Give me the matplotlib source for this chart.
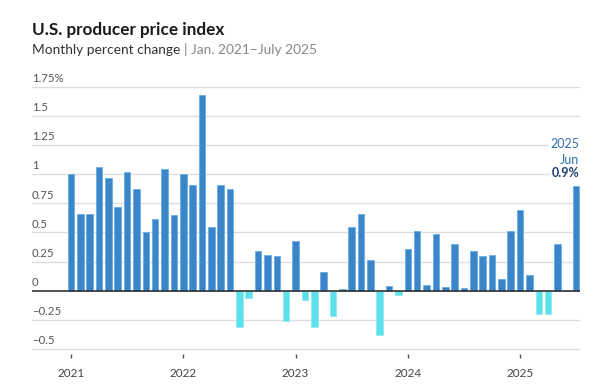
import matplotlib
matplotlib.use('Agg')
import matplotlib.pyplot as plt
import numpy as np

plt.rcParams['font.family'] = ['Lato', 'DejaVu Sans']

# monthly PPI change, Jan 2021 - Jul 2025 (percent)
ppi_2021 = [1.0, 0.66, 0.66, 1.06, 0.97, 0.72, 1.02, 0.87, 0.50, 0.62, 1.05, 0.65]
ppi_2022 = [1.0, 0.91, 1.68, 0.55, 0.91, 0.87, -0.31, -0.06, 0.34, 0.31, 0.30, -0.26]
ppi_2023 = [0.43, -0.08, -0.31, 0.16, -0.22, 0.01, 0.55, 0.66, 0.26, -0.38, 0.04, -0.04]
ppi_2024 = [0.36, 0.51, 0.05, 0.49, 0.03, 0.40, 0.02, 0.34, 0.30, 0.31, 0.10, 0.51]
ppi_2025 = [0.69, 0.13, -0.20, -0.20, 0.40, 0.0, 0.90]
values = np.array(ppi_2021 + ppi_2022 + ppi_2023 + ppi_2024 + ppi_2025)

years = ['2021', '2022', '2023', '2024', '2025']
yticks = [-0.5, -0.25, 0, 0.25, 0.5, 0.75, 1, 1.25, 1.5, 1.75]
ytick_labels = ['\u22120.5', '\u22120.25', '0', '0.25', '0.5', '0.75', '1', '1.25', '1.5', '1.75%']

pos_color = '#3a86c9'
neg_color = '#5ce0ea'

fig = plt.figure(figsize=(6, 3.92), dpi=100)
ax = fig.add_axes([0.0533, 0.0969, 0.9133, 0.6806])

x = np.arange(len(values))
colors = [pos_color if v >= 0 else neg_color for v in values]
edges = ['#6aaee6' if v >= 0 else '#8eeaf0' for v in values]
ax.bar(x, values, width=0.7, color=colors, edgecolor=edges, linewidth=0.6, zorder=3)

# grid + zero line
for t in yticks:
    if t == 0:
        ax.axhline(0, color='#333333', lw=1.2, zorder=4)
    else:
        ax.axhline(t, color='#dddddd', lw=1.0, zorder=1)

ax.set_xlim(-4.17, 54.4)
ax.set_ylim(-0.546, 1.75)

# y labels sit above the gridlines at left
for t, lab in zip(yticks, ytick_labels):
    ax.text(-4.17, t + 0.025, lab, ha='left', va='bottom', fontsize=8.2,
            color='#555555', zorder=5)
ax.set_yticks([])

ax.set_xticks([12 * i for i in range(len(years))])
ax.set_xticklabels(years)
ax.tick_params(axis='x', length=3, width=1, color='#555555', pad=7,
               labelsize=8.5, labelcolor='#444444')

for s in ax.spines.values():
    s.set_visible(False)

# annotation for last bar
last = len(values) - 1
bbox = dict(facecolor='white', edgecolor='none', pad=1)
ax.annotate('2025', xy=(last + 0.3, values[last]), xytext=(0, 30), textcoords='offset points',
            ha='right', va='center', fontsize=9, color='#2e6fb0', bbox=bbox, zorder=6)
ax.annotate('Jun', xy=(last + 0.3, values[last]), xytext=(0, 19), textcoords='offset points',
            ha='right', va='center', fontsize=9, color='#2e6fb0', bbox=bbox, zorder=6)
ax.annotate('0.9%', xy=(last + 0.3, values[last]), xytext=(0, 9.5), textcoords='offset points',
            ha='right', va='center', fontsize=9, fontweight='bold', color='#1e3f6e',
            bbox=bbox, zorder=6)

# title block
fig.text(32 / 600, 1 - 35 / 392, 'U.S. producer price index', fontsize=12.3,
         fontweight='bold', color='#1a1a1a', ha='left', va='baseline')
t1 = fig.text(32 / 600, 1 - 54 / 392, 'Monthly percent change ', fontsize=9.9,
              color='#333333', ha='left', va='baseline')
fig.canvas.draw()
bb = t1.get_window_extent()
fig.text(bb.x1 / fig.bbox.width, 1 - 54 / 392, '| Jan. 2021\u2013July 2025', fontsize=9.9,
         color='#888888', ha='left', va='baseline')

fig.savefig('out.png', dpi=100)
